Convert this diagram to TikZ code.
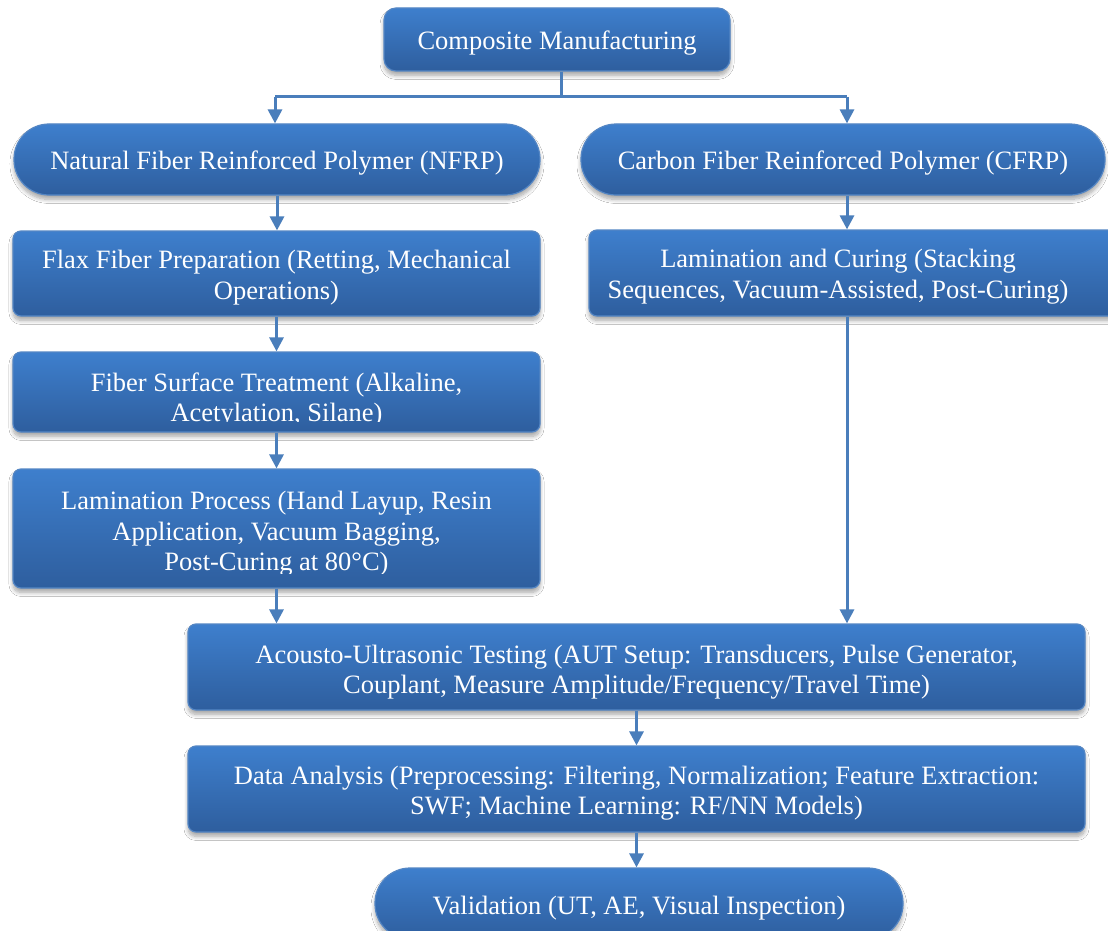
\documentclass[tikz,border=0pt]{standalone}
\usepackage{fontspec}
\setmainfont{Liberation Serif}
\usetikzlibrary{arrows.meta,shadows.blur,calc}
\definecolor{btop}{RGB}{62,127,205}
\definecolor{bbot}{RGB}{46,94,158}
\definecolor{bedge}{RGB}{84,134,196}
\definecolor{conncol}{RGB}{74,126,187}
\begin{document}
\begin{tikzpicture}[x=0.5pt,y=-0.5pt,
  boxfont/.style={font=\fontsize{13.25}{15.25}\selectfont},
  box/.style={draw=bedge, line width=0.6pt, top color=btop, bottom color=bbot,
    inner sep=0pt,
    blur shadow={shadow xshift=0pt, shadow yshift=-2.2pt, shadow blur radius=2pt,
      shadow blur steps=8, shadow opacity=35}},
  rbox/.style={box, rounded corners=4pt},
  pill/.style={box, rounded corners=17.5pt},
  txt/.style={text=white, align=center, boxfont, inner sep=0pt},
  conn/.style={draw=conncol, line width=1.5pt},
  arr/.style={conn, -{Triangle[width=7pt,length=7pt]}}]
\useasboundingbox (0,0) rectangle (1108,931);
\fill[white] (0,0) rectangle (1108,931);
\clip (0,0) rectangle (1108,931);

% boxes
\node[box, rounded corners=6pt, minimum width=173pt, minimum height=31.5pt] (comp) at (557,39.5) {};
\node[pill, minimum width=263pt, minimum height=35.5pt] (nfrp) at (277,159.5) {};
\node[pill, minimum width=262pt, minimum height=35.5pt] (cfrp) at (843,159.5) {};
\node[rbox, minimum width=263.5pt, minimum height=42.5pt] (flax) at (276.5,273.5) {};
\node[rbox, minimum width=265.5pt, minimum height=43pt] (lc) at (854.5,273) {};
\node[rbox, minimum width=263.5pt, minimum height=40pt] (fst) at (276.5,392) {};
\node[rbox, minimum width=263.5pt, minimum height=59.5pt] (lp) at (276.5,528.5) {};
\node[rbox, minimum width=448.5pt, minimum height=43pt] (aut) at (636.5,667) {};
\node[rbox, minimum width=448.5pt, minimum height=43pt] (da) at (636.5,789) {};
\node[pill, minimum width=264pt, minimum height=35.5pt] (val) at (639,903.5) {};

% texts
\node[txt] (compt) at (557,43) {Composite Manufacturing};
\node[txt] (nfrpt) at (277,163.5) {Natural Fiber Reinforced Polymer (NFRP)};
\node[txt] (cfrpt) at (843,163.5) {Carbon Fiber Reinforced Polymer (CFRP)};
\node[txt] (flaxt) at (276.5,277.5) {Flax Fiber Preparation (Retting, Mechanical\\Operations)};
\node[txt] (lct) at (838,276.5) {Lamination and Curing (Stacking\\Sequences, Vacuum-Assisted, Post-Curing)};
\begin{scope}
  \clip (13,352) rectangle (540,421.5);
  \node[txt] (fstt) at (276.5,400) {Fiber Surface Treatment (Alkaline,\\Acetylation, Silane)};
\end{scope}
\begin{scope}
  \clip (13,469) rectangle (540,573.5);
  \node[txt] (lpt) at (276.5,534) {Lamination Process (Hand Layup, Resin\\Application, Vacuum Bagging,\\Post-Curing at 80°C)};
\end{scope}
\node[txt] (autt) at (636.5,672) {Acousto-Ultrasonic Testing (AUT Setup: Transducers, Pulse Generator,\\Couplant, Measure Amplitude/Frequency/Travel Time)};
\node[txt] (dat) at (636.5,793) {Data Analysis (Preprocessing: Filtering, Normalization; Feature Extraction:\\SWF; Machine Learning: RF/NN Models)};
\node[txt] (valt) at (639,908.5) {Validation (UT, AE, Visual Inspection)};

% connectors
\coordinate (j) at (561,97);
\coordinate (jl) at (275,97);
\coordinate (jr) at (847,97);
\draw[conn] (comp.south -| j) -- (j);
\draw[conn] (jl) -- (jr);
\draw[arr] (jl) -- (jl |- nfrp.north);
\draw[arr] (jr) -- (jr |- cfrp.north);
\draw[arr] (nfrp.south) -- (nfrp.south |- flax.north);
\draw[arr] (jr |- cfrp.south) -- (jr |- lc.north);
\draw[arr] (flax.south) -- (flax.south |- fst.north);
\draw[arr] (fst.south) -- (fst.south |- lp.north);
\draw[arr] (lp.south) -- (lp.south |- aut.north);
\draw[arr] (jr |- lc.south) -- (jr |- aut.north);
\draw[arr] (aut.south) -- (aut.south |- da.north);
\draw[arr] (da.south) -- (da.south |- val.north);
\end{tikzpicture}
\end{document}
